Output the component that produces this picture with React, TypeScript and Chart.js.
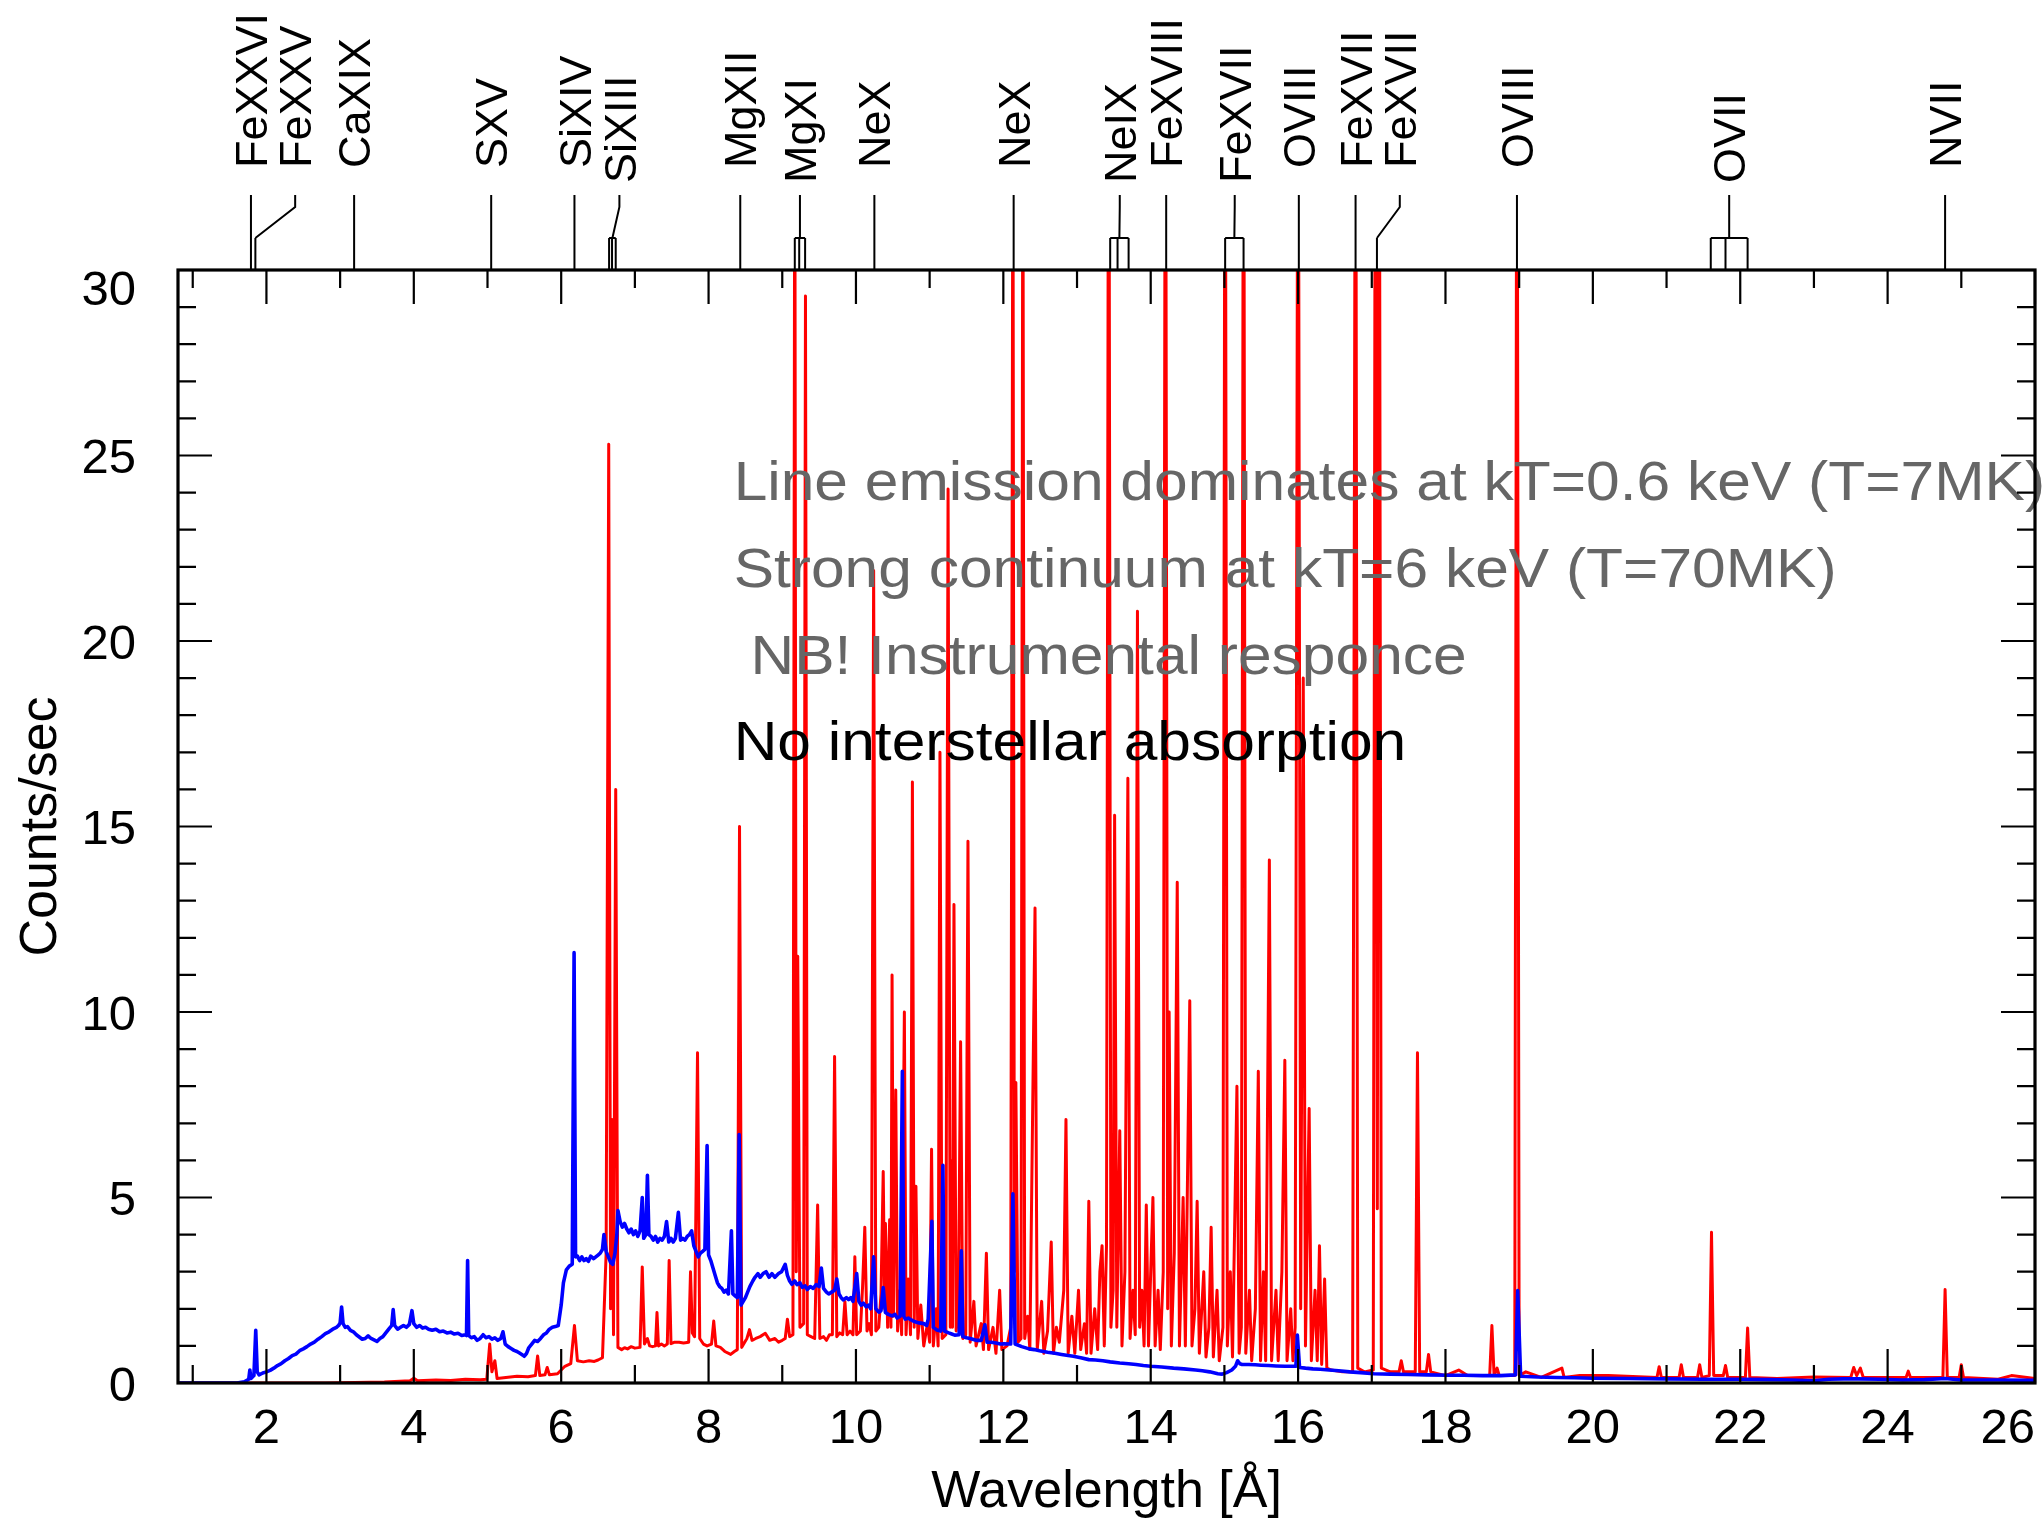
import React, { useEffect, useRef } from 'react';
import { Chart, registerables } from 'chart.js';

Chart.register(...registerables);

// ---------------- data ----------------
const xRange = [0.8, 26];
const yRange = [0, 30];
const xMajorTicks = [2, 4, 6, 8, 10, 12, 14, 16, 18, 20, 22, 24, 26];
const xMinorTicks = [1, 3, 5, 7, 9, 11, 13, 15, 17, 19, 21, 23, 25];
const yMajorTicks = [0, 5, 10, 15, 20, 25, 30];
const yMinorTicks = [1, 2, 3, 4, 6, 7, 8, 9, 11, 12, 13, 14, 16, 17, 18, 19, 21, 22, 23, 24, 26, 27, 28, 29];

// kT = 6 keV spectrum (wavelength [A], counts/sec)
const hotSpectrum: [number, number][] = [
  [0.8, 0], [1.6, 0], [1.7, 0.03], [1.76, 0.1], [1.775, 0.35], [1.79, 0.12], [1.83, 0.2], [1.855, 1.42], [1.875, 0.3], [1.9, 0.22],
  [1.95, 0.27], [2.0, 0.3], [2.05, 0.34], [2.1, 0.4], [2.15, 0.47], [2.2, 0.52], [2.25, 0.6], [2.3, 0.66], [2.35, 0.74], [2.4, 0.78],
  [2.45, 0.87], [2.5, 0.92], [2.55, 0.98], [2.6, 1.05], [2.65, 1.1], [2.7, 1.18], [2.75, 1.25], [2.8, 1.33], [2.85, 1.38], [2.9, 1.45],
  [2.95, 1.5], [2.98, 1.55], [3.0, 1.62], [3.02, 2.05], [3.04, 1.6], [3.07, 1.5], [3.1, 1.52], [3.14, 1.42], [3.18, 1.38], [3.22, 1.3],
  [3.26, 1.24], [3.3, 1.18], [3.34, 1.2], [3.38, 1.27], [3.42, 1.2], [3.46, 1.16], [3.5, 1.12], [3.54, 1.2], [3.58, 1.25], [3.62, 1.35],
  [3.66, 1.45], [3.7, 1.55], [3.72, 1.98], [3.74, 1.55], [3.78, 1.45], [3.82, 1.5], [3.86, 1.55], [3.9, 1.5], [3.94, 1.58], [3.975, 1.95],
  [4.0, 1.6], [4.04, 1.5], [4.08, 1.55], [4.12, 1.48], [4.16, 1.5], [4.2, 1.45], [4.25, 1.42], [4.3, 1.45], [4.35, 1.38], [4.4, 1.4],
  [4.45, 1.35], [4.5, 1.37], [4.55, 1.32], [4.6, 1.34], [4.65, 1.28], [4.7, 1.3], [4.715, 1.28], [4.73, 3.3], [4.745, 1.28], [4.78, 1.22],
  [4.82, 1.25], [4.86, 1.15], [4.9, 1.2], [4.94, 1.3], [4.98, 1.22], [5.02, 1.25], [5.06, 1.18], [5.1, 1.22], [5.14, 1.15], [5.18, 1.2],
  [5.21, 1.38], [5.24, 1.05], [5.28, 0.98], [5.32, 0.93], [5.36, 0.88], [5.4, 0.85], [5.44, 0.8], [5.48, 0.75], [5.5, 0.72], [5.53, 0.8],
  [5.56, 0.95], [5.6, 1.05], [5.64, 1.15], [5.68, 1.12], [5.72, 1.2], [5.76, 1.3], [5.8, 1.35], [5.84, 1.45], [5.88, 1.5], [5.92, 1.52],
  [5.96, 1.55], [6.0, 2.1], [6.03, 2.7], [6.07, 3.05], [6.11, 3.15], [6.15, 3.2], [6.175, 11.6], [6.195, 3.4], [6.22, 3.42], [6.25, 3.3],
  [6.28, 3.4], [6.31, 3.3], [6.34, 3.35], [6.37, 3.28], [6.4, 3.42], [6.44, 3.35], [6.47, 3.4], [6.5, 3.45], [6.53, 3.5], [6.56, 3.6],
  [6.58, 4.0], [6.61, 3.55], [6.64, 3.4], [6.67, 3.25], [6.7, 3.2], [6.73, 3.5], [6.755, 4.0], [6.77, 4.65], [6.8, 4.35], [6.83, 4.2],
  [6.86, 4.3], [6.89, 4.15], [6.92, 4.05], [6.95, 4.15], [6.98, 4.0], [7.01, 4.1], [7.04, 3.95], [7.07, 4.1], [7.1, 5.0], [7.12, 3.9],
  [7.15, 4.0], [7.17, 5.6], [7.19, 4.0], [7.22, 3.95], [7.25, 3.85], [7.28, 3.95], [7.31, 3.8], [7.34, 3.9], [7.37, 3.85], [7.4, 3.95],
  [7.43, 4.35], [7.46, 3.8], [7.49, 3.9], [7.52, 3.8], [7.55, 3.9], [7.59, 4.6], [7.62, 3.85], [7.65, 3.9], [7.68, 3.85], [7.71, 3.95],
  [7.74, 4.0], [7.77, 4.1], [7.8, 3.7], [7.83, 3.55], [7.86, 3.4], [7.89, 3.5], [7.92, 3.55], [7.95, 3.6], [7.98, 6.4], [8.0, 3.45],
  [8.03, 3.3], [8.06, 3.1], [8.09, 2.9], [8.12, 2.7], [8.15, 2.6], [8.18, 2.55], [8.21, 2.45], [8.24, 2.5], [8.27, 2.4], [8.31, 4.1],
  [8.33, 2.4], [8.36, 2.35], [8.39, 2.3], [8.415, 6.7], [8.44, 2.1], [8.47, 2.2], [8.5, 2.3], [8.53, 2.45], [8.56, 2.6], [8.6, 2.75],
  [8.63, 2.85], [8.67, 2.95], [8.7, 2.85], [8.74, 2.95], [8.78, 3.0], [8.82, 2.85], [8.86, 2.95], [8.9, 2.85], [8.95, 2.95], [8.99, 3.0],
  [9.04, 3.2], [9.07, 2.9], [9.1, 2.75], [9.13, 2.66], [9.17, 2.75], [9.2, 2.65], [9.24, 2.7], [9.27, 2.58], [9.31, 2.62], [9.34, 2.52],
  [9.38, 2.6], [9.42, 2.55], [9.46, 2.65], [9.5, 2.6], [9.53, 3.1], [9.56, 2.55], [9.6, 2.45], [9.63, 2.4], [9.67, 2.45], [9.71, 2.5],
  [9.74, 2.8], [9.77, 2.4], [9.8, 2.3], [9.83, 2.24], [9.87, 2.3], [9.9, 2.25], [9.93, 2.3], [9.96, 2.2], [10.01, 2.95], [10.04, 2.2],
  [10.07, 2.1], [10.1, 2.15], [10.14, 2.05], [10.17, 2.1], [10.2, 2.0], [10.24, 3.4], [10.27, 2.0], [10.31, 1.91], [10.34, 1.95], [10.37, 2.57],
  [10.4, 1.9], [10.44, 1.85], [10.49, 1.81], [10.53, 1.85], [10.56, 1.75], [10.6, 1.8], [10.63, 8.4], [10.65, 1.8], [10.67, 1.72], [10.71, 1.75],
  [10.75, 1.7], [10.8, 1.65], [10.86, 1.62], [10.92, 1.6], [10.96, 1.55], [10.98, 1.72], [11.03, 4.36], [11.05, 1.5], [11.1, 1.43], [11.15, 1.4],
  [11.18, 5.87], [11.2, 1.4], [11.26, 1.35], [11.3, 1.32], [11.34, 1.29], [11.4, 1.3], [11.43, 3.56], [11.45, 1.25], [11.5, 1.22], [11.55, 1.2],
  [11.63, 1.15], [11.7, 1.15], [11.75, 1.57], [11.78, 1.1], [11.84, 1.1], [11.9, 1.08], [11.96, 1.05], [12.01, 1.06], [12.1, 1.05], [12.13, 5.1],
  [12.16, 1.05], [12.25, 0.98], [12.35, 0.92], [12.42, 0.9], [12.49, 0.87], [12.6, 0.83], [12.7, 0.8], [12.79, 0.77], [12.88, 0.74], [12.95, 0.72],
  [13.05, 0.68], [13.16, 0.63], [13.25, 0.62], [13.35, 0.6], [13.45, 0.57], [13.58, 0.54], [13.7, 0.52], [13.8, 0.5], [13.9, 0.47], [14.0, 0.45],
  [14.15, 0.43], [14.31, 0.4], [14.45, 0.38], [14.61, 0.35], [14.7, 0.33], [14.8, 0.3], [14.91, 0.25], [14.97, 0.24], [15.03, 0.28], [15.1, 0.35],
  [15.15, 0.45], [15.18, 0.6], [15.21, 0.52], [15.24, 0.5], [15.33, 0.5], [15.42, 0.49], [15.5, 0.48], [15.6, 0.47], [15.7, 0.46], [15.82, 0.45],
  [15.97, 0.45], [15.99, 1.29], [16.02, 0.42], [16.1, 0.4], [16.2, 0.38], [16.3, 0.37], [16.42, 0.35], [16.55, 0.33], [16.7, 0.3], [16.85, 0.28],
  [17.03, 0.25], [17.25, 0.24], [17.5, 0.23], [17.75, 0.22], [18.05, 0.21], [18.25, 0.21], [18.5, 0.2], [18.75, 0.2], [18.95, 0.22], [18.98, 2.49],
  [19.02, 0.18], [19.25, 0.16], [19.5, 0.15], [19.75, 0.14], [20, 0.13], [20.5, 0.12], [21, 0.11], [21.5, 0.1], [22, 0.1], [22.4, 0.09],
  [22.7, 0.08], [23.0, 0.06], [23.2, 0.1], [23.4, 0.11], [23.6, 0.11], [23.9, 0.1], [24.2, 0.08], [24.5, 0.09], [24.78, 0.12], [25, 0.08],
  [25.5, 0.08], [26, 0.07],
];

// kT = 0.6 keV spectrum (wavelength [A], counts/sec)
const coolSpectrum: [number, number][] = [
  [0.8, 0], [2.8, 0], [3.6, 0.03], [3.95, 0.06], [4.0, 0.13], [4.05, 0.06], [4.3, 0.08], [4.5, 0.07], [4.7, 0.1], [4.9, 0.09],
  [4.99, 0.1], [5.03, 1.05], [5.06, 0.3], [5.1, 0.6], [5.13, 0.12], [5.25, 0.15], [5.4, 0.18], [5.55, 0.17], [5.65, 0.2], [5.68, 0.73],
  [5.71, 0.2], [5.78, 0.22], [5.81, 0.42], [5.84, 0.22], [5.95, 0.25], [6.0, 0.35], [6.05, 0.45], [6.13, 0.52], [6.18, 1.55], [6.22, 0.6],
  [6.3, 0.57], [6.38, 0.6], [6.45, 0.58], [6.5, 0.62], [6.56, 0.68], [6.61, 3.5], [6.645, 25.3], [6.67, 2.0], [6.69, 7.1], [6.71, 1.3],
  [6.74, 16.0], [6.77, 0.96], [6.82, 0.9], [6.86, 0.95], [6.9, 0.92], [6.95, 0.98], [7.0, 0.94], [7.07, 0.96], [7.1, 3.13], [7.13, 1.05],
  [7.17, 1.2], [7.2, 1.0], [7.24, 0.98], [7.28, 1.0], [7.3, 1.9], [7.32, 1.0], [7.36, 1.05], [7.4, 1.0], [7.44, 1.05], [7.465, 3.3],
  [7.49, 1.06], [7.54, 1.1], [7.6, 1.1], [7.66, 1.08], [7.73, 1.1], [7.755, 3.0], [7.78, 1.35], [7.81, 1.25], [7.85, 8.9], [7.88, 1.2],
  [7.93, 1.05], [7.98, 1.0], [8.04, 1.05], [8.07, 1.67], [8.1, 1.0], [8.16, 0.96], [8.22, 0.85], [8.3, 0.77], [8.35, 0.85], [8.39, 0.9],
  [8.42, 15.0], [8.45, 0.96], [8.49, 1.1], [8.52, 1.2], [8.555, 1.44], [8.59, 1.15], [8.64, 1.2], [8.7, 1.25], [8.77, 1.34], [8.83, 1.15],
  [8.9, 1.2], [8.95, 1.1], [9.0, 1.15], [9.04, 1.2], [9.07, 1.72], [9.1, 1.25], [9.145, 1.3], [9.17, 35], [9.19, 3.0], [9.21, 11.5],
  [9.24, 1.5], [9.29, 1.6], [9.315, 29.3], [9.34, 1.3], [9.39, 1.25], [9.44, 1.2], [9.48, 4.8], [9.51, 1.2], [9.56, 1.25], [9.6, 1.15],
  [9.64, 1.3], [9.68, 1.3], [9.71, 8.8], [9.74, 1.25], [9.78, 1.35], [9.82, 1.3], [9.85, 2.2], [9.88, 1.3], [9.92, 1.4], [9.96, 1.3],
  [9.985, 3.4], [10.01, 1.3], [10.06, 1.4], [10.09, 2.6], [10.12, 4.2], [10.15, 1.4], [10.18, 1.6], [10.21, 1.3], [10.24, 21.9], [10.27, 1.4],
  [10.31, 1.5], [10.34, 2.4], [10.37, 5.7], [10.39, 2.0], [10.4, 4.3], [10.43, 1.5], [10.457, 4.4], [10.475, 1.5], [10.49, 11.0], [10.51, 1.8],
  [10.54, 7.9], [10.565, 1.4], [10.6, 2.5], [10.62, 1.3], [10.657, 10.0], [10.68, 1.3], [10.71, 2.8], [10.74, 1.3], [10.766, 16.2], [10.79, 1.5],
  [10.814, 5.3], [10.84, 1.2], [10.88, 2.1], [10.92, 1.0], [10.97, 1.6], [11.0, 1.1], [11.026, 6.3], [11.05, 1.0], [11.09, 2.0], [11.115, 1.0],
  [11.14, 17.0], [11.17, 1.2], [11.22, 1.3], [11.25, 24.1], [11.28, 1.5], [11.29, 6.0], [11.31, 1.5], [11.33, 12.9], [11.36, 1.4], [11.39, 2.0],
  [11.42, 9.2], [11.45, 1.2], [11.49, 1.3], [11.52, 14.6], [11.55, 1.1], [11.6, 2.2], [11.63, 1.0], [11.7, 1.6], [11.73, 0.9], [11.77, 3.5],
  [11.8, 0.9], [11.86, 1.5], [11.9, 0.8], [11.95, 2.5], [11.98, 0.9], [12.05, 1.0], [12.1, 1.5], [12.13, 35], [12.15, 3.0], [12.17, 8.1],
  [12.2, 1.1], [12.24, 1.2], [12.265, 35], [12.29, 1.2], [12.33, 1.8], [12.36, 0.9], [12.43, 12.8], [12.46, 0.9], [12.52, 2.2], [12.55, 0.8],
  [12.6, 1.4], [12.65, 3.8], [12.68, 0.8], [12.72, 1.5], [12.76, 1.1], [12.82, 2.5], [12.85, 7.1], [12.88, 0.8], [12.93, 1.8], [12.97, 0.8],
  [13.02, 2.5], [13.05, 0.9], [13.1, 1.6], [13.13, 0.8], [13.16, 4.9], [13.19, 0.8], [13.24, 2.0], [13.28, 0.9], [13.31, 3.0], [13.34, 3.7],
  [13.37, 1.0], [13.4, 3.7], [13.43, 40], [13.46, 1.5], [13.49, 2.5], [13.51, 15.3], [13.54, 1.5], [13.58, 6.8], [13.61, 1.0], [13.65, 3.0],
  [13.69, 16.3], [13.72, 1.2], [13.76, 2.5], [13.79, 1.3], [13.82, 20.8], [13.85, 1.5], [13.88, 2.5], [13.91, 1.0], [13.94, 4.8], [13.97, 1.0],
  [14.03, 5.0], [14.06, 1.0], [14.1, 2.5], [14.13, 0.9], [14.17, 3.0], [14.2, 40], [14.23, 2.0], [14.25, 10.0], [14.28, 1.0], [14.32, 3.5],
  [14.36, 13.5], [14.39, 1.0], [14.44, 5.0], [14.47, 1.0], [14.53, 10.3], [14.56, 1.0], [14.6, 2.0], [14.63, 4.9], [14.66, 0.8], [14.72, 3.0],
  [14.75, 0.7], [14.79, 1.5], [14.82, 4.2], [14.85, 0.7], [14.9, 2.5], [14.93, 0.6], [14.98, 1.5], [15.01, 40], [15.04, 1.0], [15.08, 3.0],
  [15.11, 0.7], [15.17, 8.0], [15.2, 0.8], [15.23, 1.5], [15.26, 40], [15.29, 0.8], [15.34, 2.5], [15.37, 0.6], [15.42, 2.0], [15.46, 8.4],
  [15.49, 0.6], [15.53, 3.0], [15.56, 0.6], [15.61, 14.1], [15.64, 0.6], [15.7, 2.5], [15.73, 0.6], [15.78, 3.0], [15.82, 8.7], [15.85, 0.6],
  [15.9, 2.0], [15.93, 0.6], [15.96, 1.5], [16.0, 40], [16.035, 2.0], [16.07, 19.0], [16.1, 1.0], [16.15, 7.4], [16.18, 0.6], [16.23, 2.5],
  [16.26, 0.6], [16.29, 3.7], [16.32, 0.5], [16.36, 2.8], [16.39, 0.4], [16.45, 0.35], [16.6, 0.3], [16.74, 0.3], [16.78, 40], [16.81, 0.4],
  [16.9, 0.3], [17.02, 0.35], [17.05, 40], [17.075, 4.7], [17.1, 40], [17.13, 0.4], [17.25, 0.3], [17.37, 0.3], [17.4, 0.6], [17.43, 0.3],
  [17.59, 0.3], [17.62, 8.9], [17.65, 0.3], [17.74, 0.3], [17.77, 0.77], [17.8, 0.3], [18.0, 0.2], [18.18, 0.35], [18.3, 0.2], [18.6, 0.2],
  [18.63, 1.55], [18.66, 0.2], [18.7, 0.4], [18.73, 0.2], [18.94, 0.2], [18.97, 40], [19.0, 0.2], [19.09, 0.3], [19.3, 0.15], [19.58, 0.4],
  [19.61, 0.15], [19.82, 0.2], [20.21, 0.2], [20.87, 0.15], [20.9, 0.44], [20.93, 0.15], [21.17, 0.15], [21.2, 0.49], [21.23, 0.15], [21.42, 0.15],
  [21.45, 0.49], [21.48, 0.15], [21.58, 0.2], [21.61, 4.06], [21.64, 0.2], [21.77, 0.2], [21.8, 0.47], [21.83, 0.15], [22.07, 0.15], [22.1, 1.48],
  [22.13, 0.15], [22.5, 0.12], [23.0, 0.16], [23.5, 0.15], [23.54, 0.42], [23.58, 0.2], [23.63, 0.4], [23.67, 0.15], [24.25, 0.15], [24.28, 0.32],
  [24.31, 0.15], [24.75, 0.15], [24.78, 2.52], [24.81, 0.15], [24.97, 0.15], [25.0, 0.49], [25.03, 0.15], [25.5, 0.1], [25.68, 0.2], [26, 0.12],
];

// ion identifications along the top
const ionNames = ['FeXXVI', 'FeXXV', 'CaXIX', 'SXV', 'SiXIV', 'SiXIII', 'MgXII', 'MgXI', 'NeX', 'NeX',
  'NeIX', 'FeXVIII', 'FeXVII', 'OVIII', 'FeXVII', 'FeXVII', 'OVIII', 'OVII', 'NVII'];
const ionWavelengths: number[][] = [[1.79], [1.85], [3.19], [5.05], [6.18], [6.65, 6.69, 6.74], [8.43], [9.17, 9.23, 9.31], [10.25], [12.14],
  [13.45, 13.55, 13.7], [14.21], [15.01, 15.26], [16.01], [16.78], [17.07], [18.97], [21.6, 21.8, 22.1], [24.78]];
const ionLabelAt = [1.79, 2.39, 3.19, 5.05, 6.18, 6.79, 8.43, 9.24, 10.25, 12.14,
  13.58, 14.21, 15.14, 16.01, 16.78, 17.38, 18.97, 21.85, 24.78];

const notes = ['Line emission dominates at kT=0.6 keV (T=7MK)', 'Strong continuum at kT=6 keV (T=70MK)', ' NB! Instrumental responce', 'No interstellar absorption'];
const noteColors = ['#666666', '#666666', '#666666', '#000000'];
const noteX = 8.34;
const noteY = [23.8, 21.45, 19.1, 16.8];

const xTitle = 'Wavelength [Å]';
const yTitle = 'Counts/sec';

// ---------------- drawing ----------------
const FONT = '"Liberation Sans", Arial, Helvetica, sans-serif';

const decorPlugin = {
  id: 'decor',
  afterDatasetsDraw(chart: any) {
    const ctx: CanvasRenderingContext2D = chart.ctx;
    const xs = chart.scales.x;
    const ys = chart.scales.y;
    const a = chart.chartArea;
    ctx.save();

    // notes inside the plot
    ctx.font = `55px ${FONT}`;
    ctx.textAlign = 'left';
    ctx.textBaseline = 'alphabetic';
    notes.forEach((t, i) => {
      ctx.save();
      ctx.translate(xs.getPixelForValue(noteX), ys.getPixelForValue(noteY[i]));
      ctx.scale(1.1, 1);
      ctx.fillStyle = noteColors[i];
      ctx.fillText(t, 0, 0);
      ctx.restore();
    });

    // frame
    ctx.strokeStyle = '#000';
    ctx.lineWidth = 3.2;
    ctx.strokeRect(a.left, a.top, a.right - a.left, a.bottom - a.top);

    // ticks (inward, all four sides)
    ctx.lineWidth = 2.2;
    ctx.beginPath();
    const xt = (v: number, len: number) => {
      const p = xs.getPixelForValue(v);
      ctx.moveTo(p, a.bottom); ctx.lineTo(p, a.bottom - len);
      ctx.moveTo(p, a.top); ctx.lineTo(p, a.top + len);
    };
    const yt = (v: number, len: number) => {
      const p = ys.getPixelForValue(v);
      ctx.moveTo(a.left, p); ctx.lineTo(a.left + len, p);
      ctx.moveTo(a.right, p); ctx.lineTo(a.right - len, p);
    };
    xMajorTicks.forEach(v => xt(v, 34));
    xMinorTicks.forEach(v => xt(v, 18));
    yMajorTicks.forEach(v => yt(v, 34));
    yMinorTicks.forEach(v => yt(v, 18));
    ctx.stroke();

    // tick labels
    ctx.fillStyle = '#000';
    ctx.font = `49px ${FONT}`;
    const capH = 49 * 0.716;
    ctx.textBaseline = 'alphabetic';
    ctx.textAlign = 'center';
    xMajorTicks.forEach(v => {
      const s = String(v);
      const w = ctx.measureText(s).width;
      let p = xs.getPixelForValue(v);
      p = Math.min(p, a.right - w / 2);
      ctx.fillText(s, p, 1425 + capH / 2);
    });
    ctx.textAlign = 'right';
    yMajorTicks.forEach(v => {
      let p = ys.getPixelForValue(v);
      p = Math.max(p, a.top + 17);
      ctx.fillText(String(v), 136, p + capH / 2);
    });

    // axis titles
    ctx.font = `52px ${FONT}`;
    ctx.textAlign = 'center';
    ctx.fillText(xTitle, (a.left + a.right) / 2, 1507);
    ctx.save();
    ctx.translate(56, (a.top + a.bottom) / 2);
    ctx.rotate(-Math.PI / 2);
    ctx.fillText(yTitle, 0, 0);
    ctx.restore();

    // ion markers
    const yBracket = a.top - 32;
    const ySlant = a.top - 63;
    const yEnd = a.top - 75;
    ctx.lineWidth = 2;
    ctx.font = `45px ${FONT}`;
    ctx.textAlign = 'left';
    const ionCap = 45 * 0.716;
    ionNames.forEach((name, i) => {
      const px = ionWavelengths[i].map(w => xs.getPixelForValue(w));
      const lx = xs.getPixelForValue(ionLabelAt[i]);
      ctx.beginPath();
      let cx = px[0];
      px.forEach(p => { ctx.moveTo(p, a.top); ctx.lineTo(p, yBracket); });
      if (px.length > 1) {
        const x0 = Math.min(...px), x1 = Math.max(...px);
        ctx.moveTo(x0, yBracket); ctx.lineTo(x1, yBracket);
        cx = (x0 + x1) / 2;
      }
      ctx.moveTo(cx, yBracket);
      ctx.lineTo(lx, ySlant);
      ctx.lineTo(lx, yEnd);
      ctx.stroke();
      ctx.save();
      ctx.translate(lx + ionCap / 2, px.length > 1 ? 183 : 168);
      ctx.rotate(-Math.PI / 2);
      ctx.fillText(name, 0, 0);
      ctx.restore();
    });

    ctx.restore();
  },
};

export default function App() {
  const ref = useRef<HTMLCanvasElement>(null);
  useEffect(() => {
    const canvas = ref.current;
    if (!canvas) return;
    const chart = new Chart(canvas, {
      type: 'line',
      data: {
        datasets: [
          {
            label: 'kT=6 keV',
            data: hotSpectrum.map(([x, y]) => ({ x, y })),
            borderColor: '#0000ff',
            borderWidth: 3.6,
            pointRadius: 0,
            tension: 0,
            borderJoinStyle: 'round',
          },
          {
            label: 'kT=0.6 keV',
            data: coolSpectrum.map(([x, y]) => ({ x, y })),
            borderColor: '#ff0000',
            borderWidth: 3.0,
            pointRadius: 0,
            tension: 0,
            borderJoinStyle: 'round',
          },
        ],
      },
      options: {
        responsive: false,
        animation: false,
        events: [],
        layout: { padding: { left: 178, right: 8, top: 270, bottom: 138 } },
        scales: {
          x: { type: 'linear', min: xRange[0], max: xRange[1], display: false },
          y: { type: 'linear', min: yRange[0], max: yRange[1], display: false },
        },
        plugins: { legend: { display: false }, tooltip: { enabled: false } },
      },
      plugins: [decorPlugin],
    } as any);
    return () => chart.destroy();
  }, []);
  return (
    <canvas
      ref={ref}
      width={2043}
      height={1521}
      style={{ position: 'fixed', left: 0, top: 0, width: 2043, height: 1521, background: '#fff' }}
    />
  );
}
